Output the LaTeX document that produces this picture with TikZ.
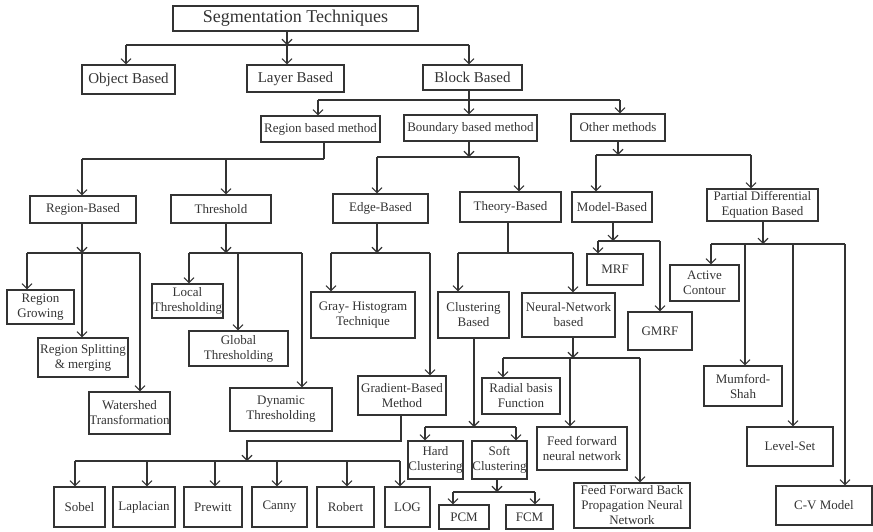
\documentclass[tikz,border=0pt]{standalone}
\usepackage{fontspec}
\setmainfont{Liberation Serif}
\usetikzlibrary{arrows.meta}
\begin{document}
\begin{tikzpicture}[x=1pt,y=-1pt,line width=1.1pt,color=black!80,
  sz/.style 2 args={minimum width=#1pt,minimum height=#2pt}]
\tikzstyle{box}=[draw,rectangle,inner sep=0pt,align=center,font=\fontsize{13}{15}\selectfont]
\tikzstyle{arr}=[-{Straight Barb[length=5pt,width=10pt]}]
\useasboundingbox (0,0) rectangle (873,531);

\node[box,sz={245}{25},font=\fontsize{18}{20}\selectfont] (seg) at (295.5,18.5) {Segmentation Techniques};
\node[box,sz={93}{29},font=\fontsize{15}{17}\selectfont] (obj) at (128.5,79.5) {Object Based};
\node[box,sz={97}{27},font=\fontsize{15}{17}\selectfont] (layer) at (295.5,78.5) {Layer Based};
\node[box,sz={99}{25},font=\fontsize{15}{17}\selectfont] (block) at (472.5,77.5) {Block Based};
\node[box,sz={119}{26}] (regm) at (320.5,129) {Region based method};
\node[box,sz={133}{26}] (bndm) at (470.5,128) {Boundary based method};
\node[box,sz={94}{27}] (othm) at (618,127.5) {Other methods};
\node[box,sz={106}{27}] (regb) at (83,209.5) {Region-Based};
\node[box,sz={100}{28}] (thr) at (221,209) {Threshold};
\node[box,sz={95}{29}] (edge) at (380.5,208.5) {Edge-Based};
\node[box,sz={101}{30}] (theo) at (510.5,207) {Theory-Based};
\node[box,sz={80}{30}] (model) at (612,207) {Model-Based};
\node[box,sz={111}{32}] (pde) at (762.5,205) {Partial Differential\\Equation Based};
\node[box,sz={67}{34}] (grow) at (40.5,307) {Region\\Growing};
\node[box,sz={90}{39}] (split) at (83,357.5) {Region Splitting\\\& merging};
\node[box,sz={81}{42}] (water) at (129.5,413) {Watershed\\Transformation};
\node[box,sz={71}{34}] (local) at (187.5,301) {Local\\Thresholding};
\node[box,sz={99}{35}] (global) at (238.5,348.5) {Global\\Thresholding};
\node[box,sz={102}{43}] (dyn) at (281,409.5) {Dynamic\\Thresholding};
\node[box,sz={104}{46}] (gray) at (363,315) {Gray- Histogram\\Technique};
\node[box,sz={88}{39}] (grad) at (402,395.5) {Gradient-Based\\Method};
\node[box,sz={51}{40}] (sobel) at (79.5,507) {Sobel};
\node[box,sz={62}{40}] (lap) at (144,507) {Laplacian};
\node[box,sz={58}{40}] (prew) at (213,507) {Prewitt};
\node[box,sz={55}{40}] (canny) at (279.5,507) {Canny};
\node[box,sz={57}{40}] (robert) at (345.5,507) {Robert};
\node[box,sz={45}{40}] (log) at (407.5,507) {LOG};
\node[box,sz={71}{46}] (clus) at (473.5,315) {Clustering\\Based};
\node[box,sz={93}{44}] (nn) at (568.5,315) {Neural-Network\\based};
\node[box,sz={55}{38}] (hard) at (435.5,460) {Hard\\Clustering};
\node[box,sz={55}{38}] (soft) at (499.5,460) {Soft\\Clustering};
\node[box,sz={50}{24}] (pcm) at (464,517) {PCM};
\node[box,sz={47}{24}] (fcm) at (529.5,517) {FCM};
\node[box,sz={78}{36}] (rbf) at (521,396) {Radial basis\\Function};
\node[box,sz={90}{43}] (ffnn) at (582,448.5) {Feed forward\\neural network};
\node[box,sz={116}{45}] (ffbp) at (632,505.5) {Feed Forward Back\\Propagation Neural\\Network};
\node[box,sz={56}{31}] (mrf) at (615,269.5) {MRF};
\node[box,sz={64}{38}] (gmrf) at (660,331) {GMRF};
\node[box,sz={69}{36}] (active) at (704.5,283) {Active\\Contour};
\node[box,sz={78}{40}] (mum) at (743,386) {Mumford-\\Shah};
\node[box,sz={86}{39}] (level) at (790,446.5) {Level-Set};
\node[box,sz={96}{39}] (cv) at (824,505.5) {C-V Model};

\coordinate (jseg) at (287,45);
\draw[arr] (jseg |- seg.south) -- (jseg);
\draw (126,0 |- jseg) -- (469,0 |- jseg);
\foreach \n/\x in {obj/126,layer/287,block/469}
  \draw[arr] (\x,0 |- jseg) -- (\x,0 |- \n.north);

\coordinate (jblk) at (469,100);
\draw (jblk |- block.south) -- (jblk);
\draw (318,0 |- jblk) -- (620,0 |- jblk);
\foreach \n/\x in {regm/318,bndm/469,othm/620}
  \draw[arr] (\x,0 |- jblk) -- (\x,0 |- \n.north);

\coordinate (jregm) at (324,159);
\draw (jregm |- regm.south) -- (jregm);
\draw (82,0 |- jregm) -- (324,0 |- jregm);
\foreach \n/\x in {regb/82,thr/226}
  \draw[arr] (\x,0 |- jregm) -- (\x,0 |- \n.north);

\coordinate (jbndm) at (469,157);
\draw[arr] (jbndm |- bndm.south) -- (jbndm);
\draw (377,0 |- jbndm) -- (519,0 |- jbndm);
\foreach \n/\x in {edge/377,theo/519}
  \draw[arr] (\x,0 |- jbndm) -- (\x,0 |- \n.north);

\coordinate (jothm) at (618,155);
\draw[arr] (jothm |- othm.south) -- (jothm);
\draw (596,0 |- jothm) -- (751,0 |- jothm);
\foreach \n/\x in {model/596,pde/751}
  \draw[arr] (\x,0 |- jothm) -- (\x,0 |- \n.north);

\coordinate (jregb) at (82,253);
\draw[arr] (jregb |- regb.south) -- (jregb);
\draw (27,0 |- jregb) -- (140,0 |- jregb);
\foreach \n/\x in {grow/27,split/82,water/140}
  \draw[arr] (\x,0 |- jregb) -- (\x,0 |- \n.north);

\coordinate (jthr) at (226,253);
\draw[arr] (jthr |- thr.south) -- (jthr);
\draw (189,0 |- jthr) -- (302,0 |- jthr);
\foreach \n/\x in {local/189,global/238,dyn/302}
  \draw[arr] (\x,0 |- jthr) -- (\x,0 |- \n.north);

\coordinate (jedge) at (377,253);
\draw[arr] (jedge |- edge.south) -- (jedge);
\draw (331,0 |- jedge) -- (430,0 |- jedge);
\foreach \n/\x in {gray/331,grad/430}
  \draw[arr] (\x,0 |- jedge) -- (\x,0 |- \n.north);

\coordinate (jtheo) at (508,253);
\draw (jtheo |- theo.south) -- (jtheo);
\draw (458,0 |- jtheo) -- (573,0 |- jtheo);
\foreach \n/\x in {clus/458,nn/573}
  \draw[arr] (\x,0 |- jtheo) -- (\x,0 |- \n.north);

\coordinate (jmodel) at (613,241);
\draw[arr] (jmodel |- model.south) -- (jmodel);
\draw (598,0 |- jmodel) -- (660,0 |- jmodel);
\foreach \n/\x in {mrf/598,gmrf/660}
  \draw[arr] (\x,0 |- jmodel) -- (\x,0 |- \n.north);

\coordinate (jpde) at (763,244);
\draw[arr] (jpde |- pde.south) -- (jpde);
\draw (711,0 |- jpde) -- (845,0 |- jpde);
\foreach \n/\x in {active/711,mum/745,level/793,cv/845}
  \draw[arr] (\x,0 |- jpde) -- (\x,0 |- \n.north);

\coordinate (jgrad) at (247,461);
\draw[arr] (401,0 |- grad.south) |- ([yshift=20pt]jgrad) -- (jgrad);
\draw (75,0 |- jgrad) -- (400,0 |- jgrad);
\foreach \n/\x in {sobel/75,lap/147,prew/215,canny/277,robert/347,log/400}
  \draw[arr] (\x,0 |- jgrad) -- (\x,0 |- \n.north);

\coordinate (jclus) at (474,427);
\draw[arr] (jclus |- clus.south) -- (jclus);
\draw (425,0 |- jclus) -- (516,0 |- jclus);
\foreach \n/\x in {hard/425,soft/516}
  \draw[arr] (\x,0 |- jclus) -- (\x,0 |- \n.north);

\coordinate (jsoft) at (497,492);
\draw[arr] (jsoft |- soft.south) -- (jsoft);
\draw (453,0 |- jsoft) -- (535,0 |- jsoft);
\foreach \n/\x in {pcm/453,fcm/535}
  \draw[arr] (\x,0 |- jsoft) -- (\x,0 |- \n.north);

\coordinate (jnn) at (573,358);
\draw[arr] (jnn |- nn.south) -- (jnn);
\draw (503,0 |- jnn) -- (640,0 |- jnn);
\foreach \n/\x in {rbf/503,ffnn/570,ffbp/640}
  \draw[arr] (\x,0 |- jnn) -- (\x,0 |- \n.north);
\end{tikzpicture}
\end{document}
